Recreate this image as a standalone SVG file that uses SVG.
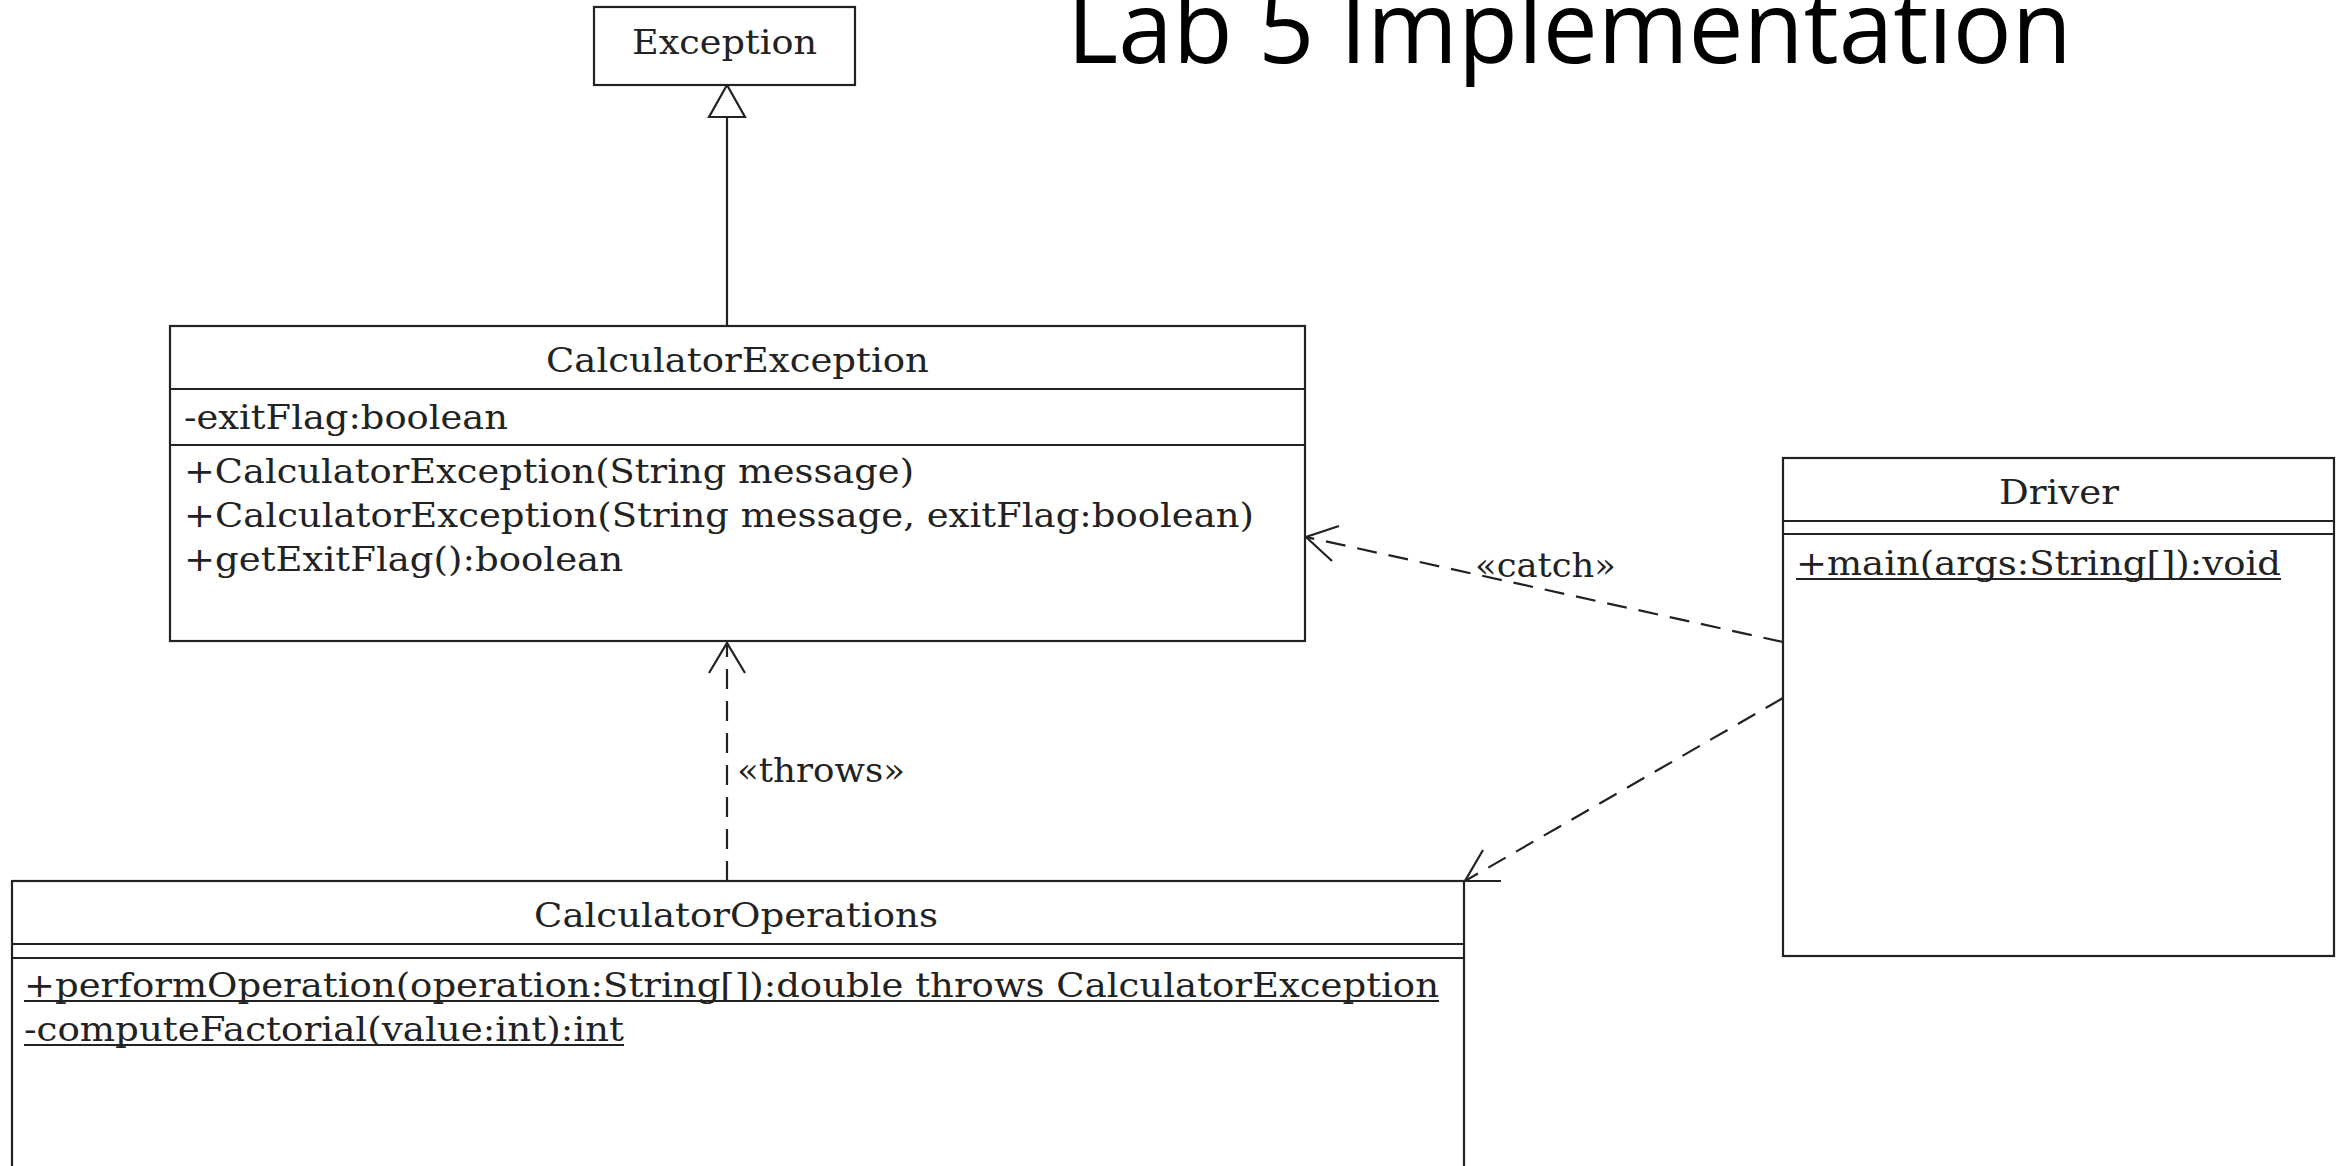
<svg xmlns="http://www.w3.org/2000/svg" width="2341" height="1166" viewBox="0 0 2341 1166">
  <style>
    .box { fill: #ffffff; stroke: #222222; stroke-width: 2.2; }
    .div { stroke: #222222; stroke-width: 2.2; }
    .t { font-family: "DejaVu Serif", "Liberation Serif", serif; font-size: 34px; fill: #222222; }
    .ul { stroke: #222222; stroke-width: 2; }
    .edge { fill: none; stroke: #222222; stroke-width: 2.2; }
    .dash { stroke-dasharray: 20 12; }
    .title { font-family: "Open Sans", "Liberation Sans", sans-serif; font-size: 100px; fill: #000000; }
  </style>
  <rect x="0" y="0" width="2341" height="1166" fill="#ffffff"/>

  <text class="title" x="1067" y="63" textLength="1005" lengthAdjust="spacingAndGlyphs">Lab 5 Implementation</text>

  <g id="connectors">
    <line class="edge" x1="727" y1="326" x2="727" y2="117"/>
    <polygon class="edge" points="727,85 709,117 745,117" style="fill:#ffffff"/>

    <line class="edge dash" x1="727" y1="881" x2="727" y2="643"/>
    <polyline class="edge" points="709,673 727,643 745,673"/>
    <text class="t" x="737" y="782" textLength="168" lengthAdjust="spacingAndGlyphs">«throws»</text>

    <line class="edge dash" x1="1783" y1="642" x2="1306" y2="537"/>
    <polyline class="edge" points="1339,526 1306,537 1332,561"/>
    <text class="t" x="1475" y="577" textLength="141" lengthAdjust="spacingAndGlyphs">«catch»</text>

    <line class="edge dash" x1="1783" y1="698" x2="1465" y2="881"/>
    <polyline class="edge" points="1483,850 1465,881 1501,881"/>
  </g>

  <g id="Exception">
    <rect class="box" x="594" y="7" width="261" height="78"/>
    <text class="t" x="632" y="54" textLength="185" lengthAdjust="spacingAndGlyphs">Exception</text>
  </g>

  <g id="CalculatorException">
    <rect class="box" x="170" y="326" width="1135" height="315"/>
    <line class="div" x1="170" y1="389" x2="1305" y2="389"/>
    <line class="div" x1="170" y1="445" x2="1305" y2="445"/>
    <text class="t" x="546" y="372" textLength="383" lengthAdjust="spacingAndGlyphs">CalculatorException</text>
    <text class="t" x="184" y="429" textLength="324" lengthAdjust="spacingAndGlyphs">-exitFlag:boolean</text>
    <text class="t" x="184" y="483" textLength="730" lengthAdjust="spacingAndGlyphs">+CalculatorException(String message)</text>
    <text class="t" x="184" y="527" textLength="1070" lengthAdjust="spacingAndGlyphs">+CalculatorException(String message, exitFlag:boolean)</text>
    <text class="t" x="184" y="571" textLength="439" lengthAdjust="spacingAndGlyphs">+getExitFlag():boolean</text>
  </g>

  <g id="Driver">
    <rect class="box" x="1783" y="458" width="551" height="498"/>
    <line class="div" x1="1783" y1="521" x2="2334" y2="521"/>
    <line class="div" x1="1783" y1="534" x2="2334" y2="534"/>
    <text class="t" x="1999" y="504" textLength="120" lengthAdjust="spacingAndGlyphs">Driver</text>
    <text class="t" x="1796" y="575" textLength="485" lengthAdjust="spacingAndGlyphs">+main(args:String[]):void</text>
    <line class="ul" x1="1796" y1="579" x2="2281" y2="579"/>
  </g>

  <g id="CalculatorOperations">
    <rect class="box" x="12" y="881" width="1452" height="310"/>
    <line class="div" x1="12" y1="944" x2="1464" y2="944"/>
    <line class="div" x1="12" y1="958" x2="1464" y2="958"/>
    <text class="t" x="534" y="927" textLength="404" lengthAdjust="spacingAndGlyphs">CalculatorOperations</text>
    <text class="t" x="24" y="997" textLength="1415" lengthAdjust="spacingAndGlyphs">+performOperation(operation:String[]):double throws CalculatorException</text>
    <line class="ul" x1="24" y1="1001" x2="1439" y2="1001"/>
    <text class="t" x="24" y="1041" textLength="600" lengthAdjust="spacingAndGlyphs">-computeFactorial(value:int):int</text>
    <line class="ul" x1="24" y1="1045" x2="624" y2="1045"/>
  </g>
</svg>
